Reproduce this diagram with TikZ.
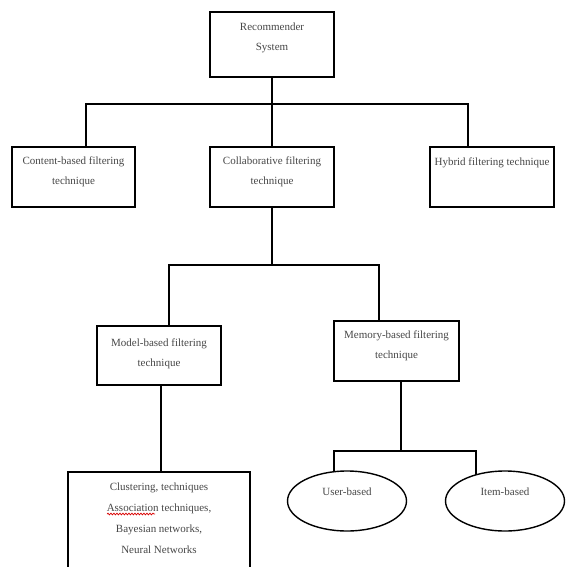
\documentclass[tikz,border=0pt]{standalone}
\usepackage{fontspec}
\setmainfont{Liberation Serif}
\usetikzlibrary{shapes.geometric,decorations.pathmorphing}
\begin{document}
\begin{tikzpicture}[x=1pt,y=1pt,
  box/.style={draw, line width=1.5pt, inner sep=0pt},
  oval/.style={draw, ellipse, line width=1.4pt, inner sep=0pt, minimum width=119pt, minimum height=60pt},
  lbl/.style={align=center, inner sep=0pt, text=black!72, font=\fontsize{11}{20}\selectfont},
  wire/.style={line width=1.5pt}]
\useasboundingbox (0,0) rectangle (565,-567);
\fill[white] (0,0) rectangle (565,-567);
\clip (0,0) rectangle (565,-567);
% level 0
\node[box, minimum width=124pt, minimum height=65pt] (rs) at (272,-44.5) {};
\node[lbl] (rsT) at (272,-38) {Recommender\\System};
% level 1
\node[box, minimum width=123pt, minimum height=60pt] (cb) at (73.5,-177) {};
\node[lbl] (cbT) at (73.5,-172) {Content-based filtering\\technique};
\node[box, minimum width=124pt, minimum height=60pt] (cf) at (272,-177) {};
\node[lbl] (cfT) at (272,-172) {Collaborative filtering\\technique};
\node[box, minimum width=124pt, minimum height=60pt] (hy) at (492,-177) {};
\node[lbl] (hyT) at (492,-163) {Hybrid filtering technique};
% level 2
\node[box, minimum width=124pt, minimum height=59pt] (mb) at (159,-355.5) {};
\node[lbl] (mbT) at (159,-353.5) {Model-based filtering\\technique};
\node[box, minimum width=125pt, minimum height=60pt] (me) at (396.5,-351) {};
\node[lbl] (meT) at (396.5,-346) {Memory-based filtering\\technique};
% level 3
\node[box, minimum width=182pt, minimum height=120pt, anchor=north] (al) at (159,-471) {};
\node[lbl, font=\fontsize{11}{21}\selectfont] (alT) at (159,-518.5) {Clustering, techniques\\Association techniques,\\Bayesian networks,\\Neural Networks};
\draw[red!85!black, line width=0.7pt, decorate, decoration={snake, amplitude=0.9pt, segment length=3pt}] (107,-514) -- (155,-514);
\node[oval] (ub) at (347,-501) {};
\node[lbl] (ubT) at (347,-492) {User-based};
\node[oval] (ib) at (505,-501) {};
\node[lbl] (ibT) at (505,-492) {Item-based};
% buses
\coordinate (busA) at (272,-104);
\coordinate (busAL) at (86,-104);
\coordinate (busAR) at (468,-104);
\coordinate (busB) at (272,-265);
\coordinate (busBL) at (169,-265);
\coordinate (busBR) at (379,-265);
\coordinate (busC) at (401,-451);
\coordinate (busCL) at (334,-451);
\coordinate (busCR) at (476,-451);
% connectors
\draw[wire] (rs.south) -- (cf.north);
\draw[wire] (busAL |- cb.north) -- (busAL) -- (busAR) -- (busAR |- hy.north);
\draw[wire] (cf.south) -- (busB);
\draw[wire] (busBL |- mb.north) -- (busBL) -- (busBR) -- (busBR |- me.north);
\draw[wire] (mb.south -| 161,0) -- (al.north -| 161,0);
\draw[wire] (me.south -| busC) -- (busC);
\draw[wire] (334,-472) -- (busCL) -- (busCR) -- (476,-474.5);
\end{tikzpicture}
\end{document}
